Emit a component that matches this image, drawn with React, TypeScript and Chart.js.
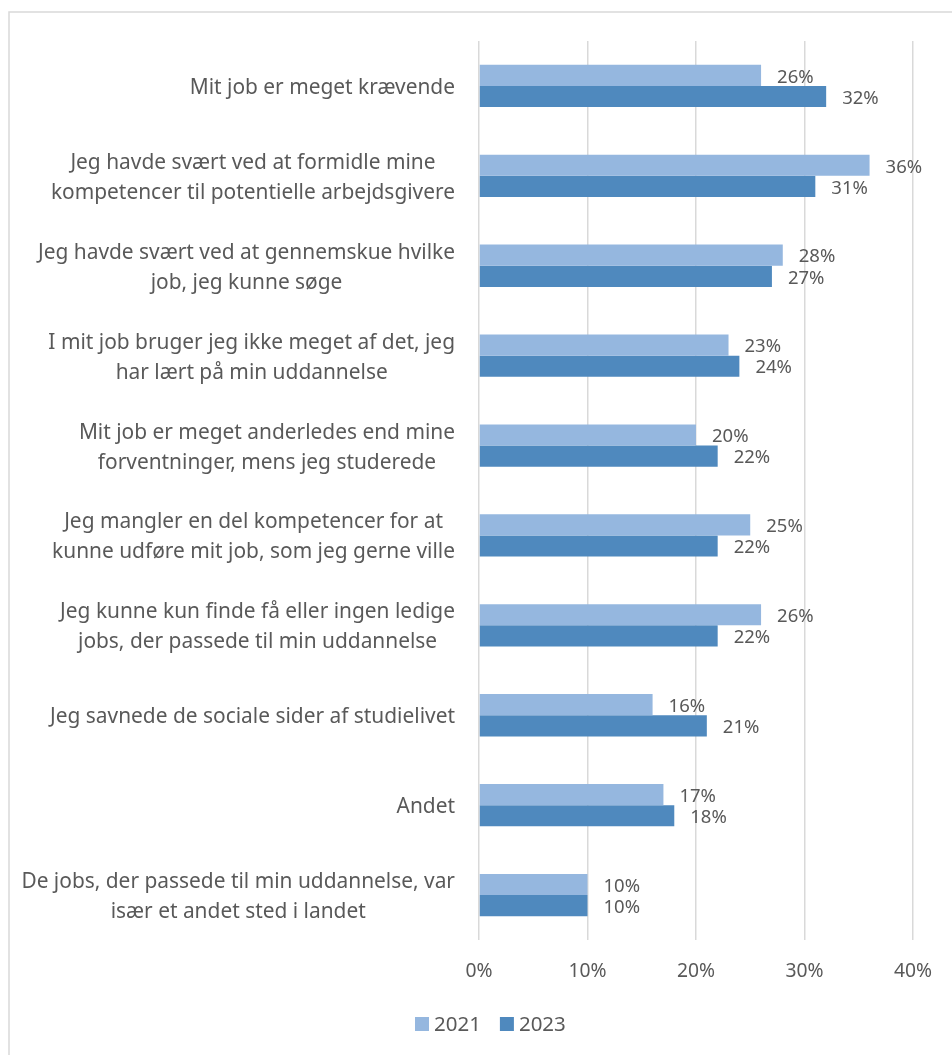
import React, { useEffect, useRef } from "react";
import { Chart, registerables } from "chart.js";

Chart.register(...registerables);

const categories: string[][] = [
  ["Mit job er meget krævende"],
  ["Jeg havde svært ved at formidle mine", "kompetencer til potentielle arbejdsgivere"],
  ["Jeg havde svært ved at gennemskue hvilke", "job, jeg kunne søge"],
  ["I mit job bruger jeg ikke meget af det, jeg", "har lært på min uddannelse"],
  ["Mit job er meget anderledes end mine", "forventninger, mens jeg studerede"],
  ["Jeg mangler en del kompetencer for at", "kunne udføre mit job, som jeg gerne ville"],
  ["Jeg kunne kun finde få eller ingen ledige", "jobs, der passede til min uddannelse"],
  ["Jeg savnede de sociale sider af studielivet"],
  ["Andet"],
  ["De jobs, der passede til min uddannelse, var", "især et andet sted i landet"],
];

const values2021: number[] = [26, 36, 28, 23, 20, 25, 26, 16, 17, 10];
const values2023: number[] = [32, 31, 27, 24, 22, 22, 22, 21, 18, 10];
const seriesLabels: string[] = ["2021", "2023"];
const seriesColors: string[] = ["#95B7DF", "#4F89BE"];
const xMin = 0;
const xMax = 40;
const xStep = 10;

const FONT = "'Noto Sans', 'Open Sans', sans-serif";
const CAT_FS = 20.9;
const VAL_FS = 18.5;
const TICK_FS = 19.3;
const LEG_FS = 20.5;
const TEXT = "#595959";

const framePlugin = {
  id: "frame",
  beforeDraw(chart: any) {
    const ctx = chart.ctx;
    ctx.save();
    ctx.strokeStyle = "#D9D9D9";
    ctx.lineWidth = 1.5;
    ctx.strokeRect(9, 12, 2000, 2000);
    ctx.restore();
  },
};

const categoryLabelPlugin = {
  id: "categoryLabels",
  afterDraw(chart: any) {
    const ctx = chart.ctx;
    const yScale = chart.scales.y;
    const right = chart.chartArea.left - 24;
    ctx.save();
    ctx.font = `${CAT_FS}px ${FONT}`;
    ctx.fillStyle = TEXT;
    ctx.textAlign = "center";
    ctx.textBaseline = "middle";
    const lh = 30;
    (chart.data.labels as string[][]).forEach((lines, i) => {
      const y = yScale.getPixelForTick(i);
      const w = Math.max(...lines.map((l) => ctx.measureText(l).width));
      const cx = right - w / 2;
      lines.forEach((l, k) => {
        ctx.fillText(l, cx, y + (k - (lines.length - 1) / 2) * lh + 2);
      });
    });
    ctx.restore();
  },
};

const valueLabelPlugin = {
  id: "valueLabels",
  afterDatasetsDraw(chart: any) {
    const ctx = chart.ctx;
    ctx.save();
    ctx.font = `${VAL_FS}px ${FONT}`;
    ctx.fillStyle = TEXT;
    ctx.textAlign = "left";
    ctx.textBaseline = "middle";
    chart.data.datasets.forEach((ds: any, i: number) => {
      const meta = chart.getDatasetMeta(i);
      meta.data.forEach((bar: any, j: number) => {
        ctx.fillText(`${ds.data[j]}%`, bar.x + 16, bar.y + 2);
      });
    });
    ctx.restore();
  },
};

const legendPlugin = {
  id: "customLegend",
  afterDraw(chart: any) {
    const ctx = chart.ctx;
    ctx.save();
    ctx.font = `${LEG_FS}px ${FONT}`;
    ctx.textBaseline = "middle";
    ctx.textAlign = "left";
    let x = 415;
    const y = 1024;
    chart.data.datasets.forEach((ds: any) => {
      ctx.fillStyle = ds.backgroundColor;
      ctx.fillRect(x, y - 7, 14, 14);
      ctx.fillStyle = TEXT;
      ctx.fillText(ds.label, x + 19, y + 1);
      x += 19 + ctx.measureText(ds.label).width + 19;
    });
    ctx.restore();
  },
};

export default function App() {
  const ref = useRef<HTMLCanvasElement | null>(null);

  useEffect(() => {
    if (!ref.current) return;
    const chart = new Chart(ref.current, {
      type: "bar",
      data: {
        labels: categories as any,
        datasets: [
          {
            label: seriesLabels[0],
            data: values2021,
            backgroundColor: seriesColors[0],
            categoryPercentage: 0.47,
            barPercentage: 1,
          },
          {
            label: seriesLabels[1],
            data: values2023,
            backgroundColor: seriesColors[1],
            categoryPercentage: 0.47,
            barPercentage: 1,
          },
        ],
      },
      options: {
        indexAxis: "y",
        responsive: false,
        animation: false,
        layout: { padding: { top: 41, right: 38, bottom: 0, left: 0 } },
        plugins: {
          legend: { display: false },
          tooltip: { enabled: false },
          title: { display: false },
        },
        scales: {
          x: {
            min: xMin,
            max: xMax,
            grid: { color: "#D9D9D9", lineWidth: 1.5, drawTicks: false },
            border: { display: false },
            ticks: {
              stepSize: xStep,
              padding: 20,
              color: TEXT,
              font: { family: FONT, size: TICK_FS },
              callback: (v: any) => `${v}%`,
            },
            afterFit: (scale: any) => {
              scale.height = 115;
            },
          },
          y: {
            grid: { display: false, drawTicks: false },
            border: { display: false },
            ticks: { display: false },
            afterFit: (scale: any) => {
              scale.width = 479;
              scale.paddingTop = 0;
              scale.paddingBottom = 0;
            },
          },
        },
      },
      plugins: [framePlugin, valueLabelPlugin, categoryLabelPlugin, legendPlugin],
    });
    return () => chart.destroy();
  }, []);

  return (
    <div style={{ position: "absolute", left: 0, top: 0, width: 952, height: 1055 }}>
      <canvas ref={ref} width={952} height={1055} />
    </div>
  );
}
